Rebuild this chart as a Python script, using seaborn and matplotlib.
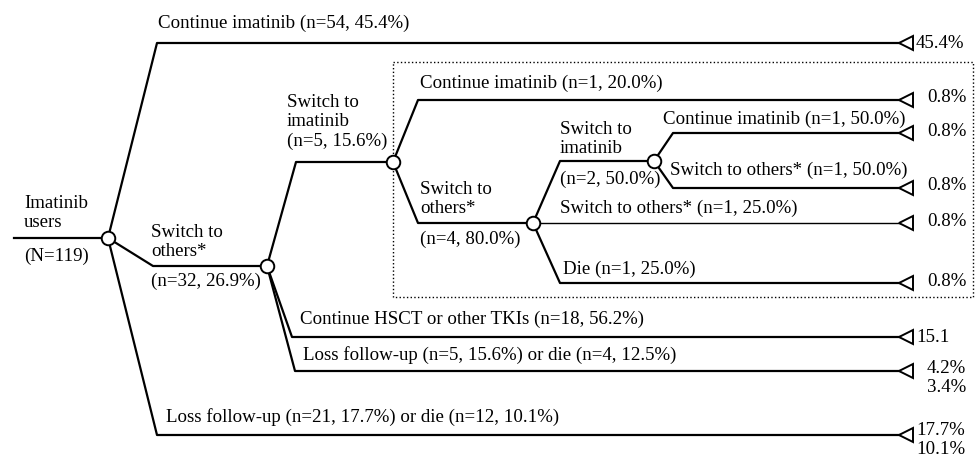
import numpy as np
import pandas as pd
import matplotlib
matplotlib.use("Agg")
import matplotlib.pyplot as plt
import seaborn as sns
from matplotlib.patches import Rectangle

# decision nodes (pixel layout of the tree)
node_names = ["root", "sw_others", "sw_imatinib", "sw_others2", "sw_imatinib2"]
node_x = [108, 267, 393, 533, 654]
node_y = [238, 266, 162, 223, 161]

# branches: parent node, elbow point, end (node name or "end")
br_parent = ["root", "root", "root", "sw_others", "sw_others", "sw_others",
             "sw_imatinib", "sw_imatinib", "sw_others2", "sw_others2", "sw_others2",
             "sw_imatinib2", "sw_imatinib2"]
br_elbow_x = [157, 153, 157, 296, 292, 295, 418, 418, 560, 533, 560, 673, 673]
br_y = [43, 266, 435, 162, 337, 371, 100, 223, 161, 223, 283, 133, 188]
br_end = ["end", "sw_others", "end", "sw_imatinib", "end", "end",
          "end", "sw_others2", "sw_imatinib2", "end", "end", "end", "end"]
br_lw = [1.6, 1.6, 1.6, 1.6, 1.6, 1.6, 1.6, 1.6, 1.6, 1.0, 1.6, 1.6, 1.6]
end_x = 900

# terminal outcome labels
end_labels = ["45.4%", "17.7%\n10.1%", "15.1", "4.2%\n3.4%",
              "0.8%", "0.8%", "0.8%", "0.8%", "0.8%"]
end_label_x = [916, 916, 916, 927, 927, 927, 927, 927, 927]
end_label_y = [43, 440, 337, 378, 98, 131, 186, 221, 281]

# branch texts
texts = ["Imatinib\nusers", "(N=119)",
         "Continue imatinib (n=54, 45.4%)",
         "Switch to\nothers*", "(n=32, 26.9%)",
         "Loss follow-up (n=21, 17.7%) or die (n=12, 10.1%)",
         "Switch to\nimatinib\n(n=5, 15.6%)",
         "Continue HSCT or other TKIs (n=18, 56.2%)",
         "Loss follow-up (n=5, 15.6%) or die (n=4, 12.5%)",
         "Continue imatinib (n=1, 20.0%)",
         "Switch to\nothers*", "(n=4, 80.0%)",
         "Switch to\nimatinib", "(n=2, 50.0%)",
         "Switch to others* (n=1, 25.0%)",
         "Die (n=1, 25.0%)",
         "Continue imatinib (n=1, 50.0%)",
         "Switch to others* (n=1, 50.0%)"]
text_x = [24, 24, 158, 151, 151, 166, 287, 300, 303, 420, 420, 420,
          560, 560, 560, 563, 663, 670]
text_y = [213, 256, 23, 242, 281, 417, 122, 319, 355, 83, 199, 239,
          139, 179, 208, 269, 119, 170]

pos = dict(zip(node_names, zip(node_x, node_y)))

rows = [{"edge": "trunk", "x": 14, "y": node_y[0]},
        {"edge": "trunk", "x": node_x[0], "y": node_y[0]}]
for i, (p, ex, y, e) in enumerate(zip(br_parent, br_elbow_x, br_y, br_end)):
    px, py = pos[p]
    ex2 = end_x if e == "end" else pos[e][0]
    for xx, yy in [(px, py), (ex, y), (ex2, y)]:
        rows.append({"edge": f"b{i}", "x": xx, "y": yy})
edges = pd.DataFrame(rows)

fig = plt.figure(figsize=(9.76, 4.59), dpi=100)
ax = fig.add_axes([0, 0, 1, 1])
plt.rcParams["font.family"] = ["Liberation Serif", "DejaVu Serif"]

for name, grp in edges.groupby("edge", sort=False):
    idx = int(name[1:]) if name != "trunk" else None
    lw = br_lw[idx] if idx is not None else 1.6
    sns.lineplot(data=grp, x="x", y="y", sort=False, estimator=None,
                 color="black", lw=lw, ax=ax)

# terminal triangles
term = pd.DataFrame({"x": [end_x + 6] * br_end.count("end"),
                     "y": [y for y, e in zip(br_y, br_end) if e == "end"]})
ax.plot(term["x"], term["y"], ls="none", marker="<", ms=9.5, mfc="white",
        mec="black", mew=1.4, zorder=4)

# chance nodes
nodes = pd.DataFrame({"x": node_x, "y": node_y})
sns.scatterplot(data=nodes, x="x", y="y", s=95, color="white",
                edgecolor="black", linewidth=1.4, zorder=5, ax=ax)

# dotted box around imatinib re-switchers
ax.add_patch(Rectangle((393, 62), 580, 235, fill=False, ls=":", lw=1.0,
                       ec="black", zorder=1))

for t, x, y in zip(texts, text_x, text_y):
    ax.text(x, y, t, ha="left", va="center", fontsize=13.6,
            family=["Liberation Serif", "DejaVu Serif"], linespacing=1.17)
for t, x, y in zip(end_labels, end_label_x, end_label_y):
    ax.text(x, y, t, ha="left", va="center", fontsize=13.6,
            family=["Liberation Serif", "DejaVu Serif"], linespacing=1.1)

ax.set_xlim(0, 976)
ax.set_ylim(459, 0)
ax.axis("off")
fig.savefig("out.png", dpi=100)
